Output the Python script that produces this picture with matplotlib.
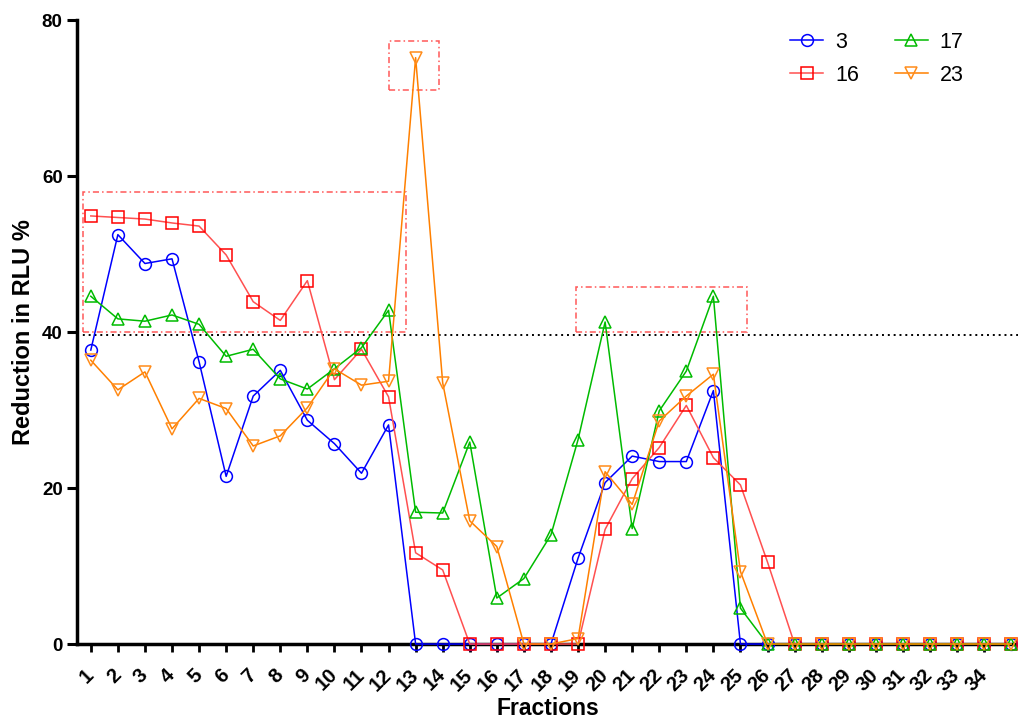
import matplotlib
matplotlib.use("Agg")
import matplotlib.pyplot as plt
from matplotlib.patches import Rectangle

plt.rcParams["font.family"] = ["Liberation Sans", "DejaVu Sans"]

# fractions 1..35 (ticks labelled up to 34)
fractions = list(range(1, 36))
tick_labels = [str(i) for i in range(1, 35)]

s3 = [37.7, 52.5, 48.8, 49.4, 36.2, 21.5, 31.8, 35.1, 28.7, 25.7, 21.9, 28.1,
      0, 0, 0, 0, 0, 0, 11.0, 20.7, 24.1, 23.4, 23.4, 32.5] + [0] * 11
s16 = [54.9, 54.7, 54.5, 54.0, 53.6, 49.9, 43.9, 41.5, 46.6, 33.9, 37.8, 31.7,
       11.7, 9.5, 0, 0, 0, 0, 0, 14.7, 21.2, 25.2, 30.6, 23.9, 20.4, 10.5] + [0] * 9
s17 = [44.6, 41.7, 41.4, 42.2, 41.0, 36.9, 37.8, 34.0, 32.7, 35.3, 38.0, 42.8,
       16.9, 16.8, 25.9, 5.9, 8.4, 14.0, 26.2, 41.3, 14.8, 29.9, 35.0, 44.6, 4.6] + [0] * 10
s23 = [36.4, 32.6, 34.9, 27.6, 31.5, 30.2, 25.4, 26.7, 30.3, 35.3, 33.2, 33.7,
       75.2, 33.5, 15.8, 12.5, 0, 0, 0.7, 22.1, 17.9, 28.6, 31.8, 34.6, 9.3] + [0] * 10

threshold = 39.6
# highlighted regions: (x0, x1, y0, y1)
boxes = [(0.73, 12.63, 40.0, 58.0), (12.03, 13.86, 71.1, 77.3), (18.92, 25.25, 40.0, 45.8)]

series = [
    ("3", s3, "o", "#0000ff", "#0000ff"),
    ("16", s16, "s", "#ff0000", "#ff5050"),
    ("17", s17, "^", "#00bb00", "#00bb00"),
    ("23", s23, "v", "#ff8c1a", "#ff8000"),
]

fig = plt.figure(figsize=(10.18, 7.22), dpi=100)
ax = fig.add_axes([0.0759, 0.108, 0.924, 0.864])

for name, vals, mk, mc, lc in series:
    ax.plot(fractions, vals, color=lc, lw=1.1, marker=mk, ms=8.5,
            mfc="none", mec=mc, mew=1.1, label=name, clip_on=False, zorder=3)

ax.axhline(threshold, color="black", ls=(0, (1, 2)), lw=1.4, zorder=2)
for x0, x1, y0, y1 in boxes:
    ax.add_patch(Rectangle((x0, y0), x1 - x0, y1 - y0, fill=False,
                           ec="#ff3030", alpha=0.8, lw=1.1, ls=(0, (4, 2, 1, 2)), zorder=2))

ax.set_xlim(0.5, 35.25)
ax.set_ylim(0, 80)
ax.set_yticks([0, 20, 40, 60, 80])
ax.set_xticks(range(1, 35))
ax.set_xticklabels(tick_labels, rotation=45, ha="right", va="center",
                   rotation_mode="anchor", fontsize=14.5, fontweight="bold")
for lab in ax.get_yticklabels():
    lab.set_fontsize(13.5); lab.set_fontweight("bold")
ax.tick_params(axis="y", direction="out", length=7, width=2.2)
ax.tick_params(axis="x", direction="out", length=6, width=2, pad=14)
for side in ("top", "right"):
    ax.spines[side].set_visible(False)
for side in ("left", "bottom"):
    ax.spines[side].set_linewidth(2.5)

ax.set_xlabel("Fractions", fontsize=16.5, fontweight="bold", labelpad=2)
ax.set_ylabel("Reduction in RLU %", fontsize=17, fontweight="bold", labelpad=5)

ax.legend(ncol=2, frameon=False, fontsize=15.5, loc="upper left",
          bbox_to_anchor=(790 / 1018, 1 - 32 / 722), bbox_transform=fig.transFigure,
          borderaxespad=0, borderpad=0, handlelength=1.55, handletextpad=0.55,
          columnspacing=1.65, labelspacing=0.55)

fig.savefig("out.png", dpi=100)
